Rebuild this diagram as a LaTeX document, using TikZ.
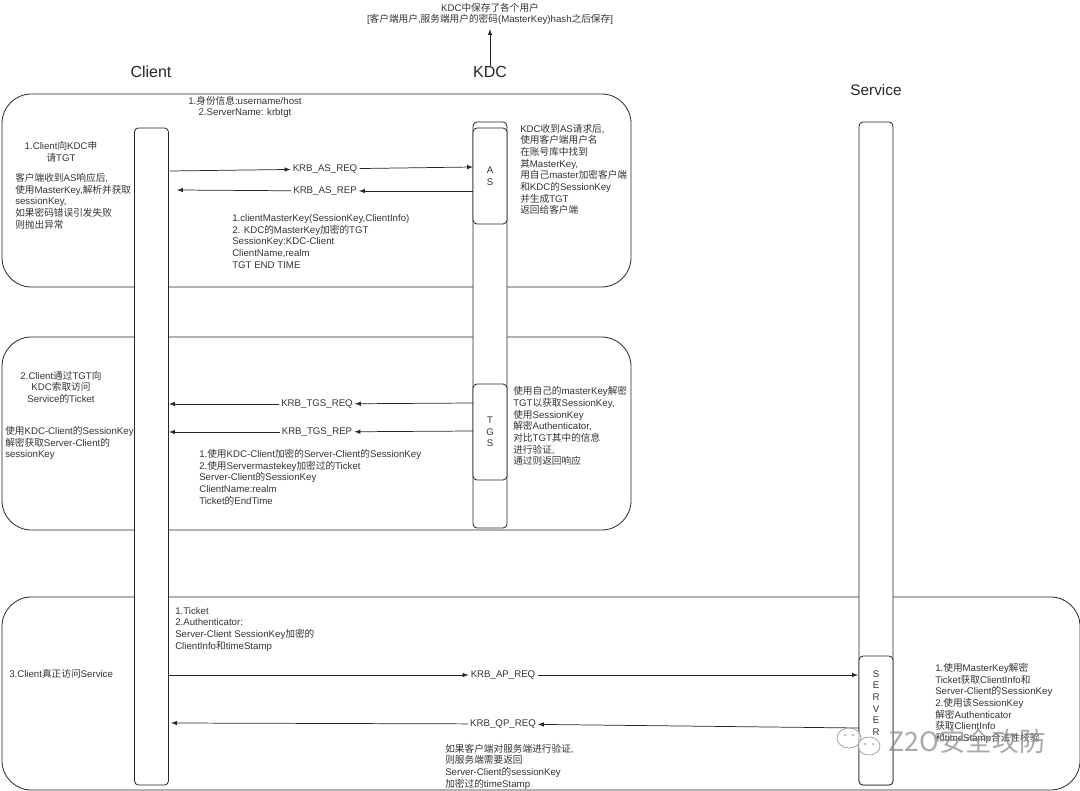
\documentclass[tikz,border=0pt]{standalone}
\usepackage{fontspec}
\setmainfont{Liberation Sans}
\newfontfamily\cjkfont{Noto Sans CJK SC}
\newcommand{\zh}[1]{{\cjkfont #1}}
\usetikzlibrary{positioning,arrows}

\tikzset{
	panel/.style={draw=black!85,line width=0.6pt,rounded corners=22pt},
	lifebox/.style={draw=black!85,fill=white,line width=0.6pt,rounded corners=3pt,inner sep=0pt,minimum width=25.5pt,align=center,text=black!80,font=\fontsize{7.2}{8.8}\selectfont},
	note/.style={align=left,anchor=west,inner sep=0pt,text=black!80,font=\fontsize{7.25}{8.75}\selectfont},
	centernote/.style={note,align=center,anchor=center},
	title/.style={inner sep=0pt,text=black!85,font=\fontsize{12}{14}\selectfont},
	msg/.style={inner sep=1.5pt,text=black!80,font=\fontsize{7.25}{8.8}\selectfont},
	flow/.style={->,>=latex,line width=0.55pt,black!85},
	bubble/.style={draw=black!40,fill=white,fill opacity=0.6,line width=0.5pt}
}

\begin{document}
\begin{tikzpicture}[x=0.75pt,y=-0.75pt]
\useasboundingbox (0,0) rectangle (1080,791);

% rounded panels
\draw[panel] (2,94) rectangle (631,287);
\draw[panel] (2,337) rectangle (631,530);
\draw[panel] (2,597) rectangle (1080,790);

% lifelines
\node[lifebox,minimum height=492.75pt](client) at (151.5,456.5) {};
\node[lifebox,minimum height=304.5pt](kdc) at (490,325) {};
\node[lifebox,minimum height=497.25pt](service) at (876,453.5) {};

\node[lifebox,minimum height=72pt](as) at (490,176) {A\\S};
\node[lifebox,minimum height=72pt](tgs) at (490,432) {T\\G\\S};
\node[lifebox,minimum height=96.75pt](server) at (876,720.5) {};
\node[centernote](serverlabel) at (876,703) {S\\E\\R\\V\\E\\R};

% titles
\node[title](clienttitle) at (151,72) {Client};
\node[title](kdctitle) at (490,72) {KDC};
\node[title,font=\fontsize{11.5}{14}\selectfont](servicetitle) at (876,90) {Service};
\node[centernote](store) at (490,14) {KDC\zh{中保存了各个用户}\\{}[\zh{客户端用户},\zh{服务端用户的密码}(MasterKey)hash\zh{之后保存}]};
\coordinate(storetip) at (490,29);
\draw[flow](kdctitle)--(storetip);

% messages
\node[msg](asreq) at (325,169) {KRB\_AS\_REQ};
\node[msg](asrep) at (325,191) {KRB\_AS\_REP};
\node[msg](tgsreq) at (317,404) {KRB\_TGS\_REQ};
\node[msg](tgsrep) at (317,432) {KRB\_TGS\_REP};
\node[msg](apreq) at (503,675) {KRB\_AP\_REQ};
\node[msg](qpreq) at (503,724) {KRB\_QP\_REQ};

\coordinate(c1) at (170,171);
\coordinate(c2) at (177,190);
\coordinate(c3) at (169,404);
\coordinate(c4) at (169,432);
\coordinate(c5) at (169,675);
\coordinate(c6) at (171,723);
\coordinate(a1) at (473,167);
\coordinate(a2) at (473,191);
\coordinate(t1) at (473,403);
\coordinate(t2) at (473,431);
\coordinate(s1) at (858,675);
\coordinate(s2) at (859,728);

\foreach \x/\y in {c1/asreq,asreq/a1,a2/asrep,asrep/c2,t1/tgsreq,tgsreq/c3,t2/tgsrep,tgsrep/c4,c5/apreq,apreq/s1,s2/qpreq,qpreq/c6}{
	\draw[flow](\x)--(\y);
}

% first panel
\node[centernote](info) at (245,107) {1.\zh{身份信息}:username/host\\2.ServerName: krbtgt};
\node[centernote](step1) at (61,152) {1.Client\zh{向}KDC\zh{申}\\\zh{请}TGT};
\node[note](clientas) at (15,201) {\zh{客户端收到}AS\zh{响应后},\\\zh{使用}MasterKey,\zh{解析并获取}\\sessionKey,\\\zh{如果密码错误引发失败}\\\zh{则抛出异常}};
\node[note](kdcas) at (520,169.5) {KDC\zh{收到}AS\zh{请求后},\\\zh{使用客户端用户名}\\\zh{在账号库中找到}\\\zh{其}MasterKey,\\\zh{用自己}master\zh{加密客户端}\\\zh{和}KDC\zh{的}SessionKey\\\zh{并生成}TGT\\\zh{返回给客户端}};
\node[note](asreply) at (232,241.5) {1.clientMasterKey(SessionKey,ClientInfo)\\2. KDC\zh{的}MasterKey\zh{加密的}TGT\\SessionKey:KDC-Client\\ClientName,realm\\TGT END TIME};

% second panel
\node[centernote](step2) at (61,387) {2.Client\zh{通过}TGT\zh{向}\\KDC\zh{索取访问}\\Service\zh{的}Ticket};
\node[note](clienttgs) at (5,443) {\zh{使用}KDC-Client\zh{的}SessionKey\\\zh{解密获取}Server-Client\zh{的}\\sessionKey};
\node[note](kdctgs) at (513,426) {\zh{使用自己的}masterKey\zh{解密}\\TGT\zh{以获取}SessionKey,\\\zh{使用}SessionKey\\\zh{解密}Authenticator,\\\zh{对比}TGT\zh{其中的信息}\\\zh{进行验证},\\\zh{通过则返回响应}};
\node[note](tgsreply) at (199,477) {1.\zh{使用}KDC-Client\zh{加密的}Server-Client\zh{的}SessionKey\\2.\zh{使用}Servermastekey\zh{加密过的}Ticket\\Server-Client\zh{的}SessionKey\\ClientName:realm\\Ticket\zh{的}EndTime};

% third panel
\node[note](step3) at (9,674) {3.Client\zh{真正访问}Service};
\node[note](apinfo) at (175,629) {1.Ticket\\2.Authenticator:\\Server-Client SessionKey\zh{加密的}\\ClientInfo\zh{和}timeStamp};
\node[note](qpinfo) at (445,766.5) {\zh{如果客户端对服务端进行验证},\\\zh{则服务端需要返回}\\Server-Client\zh{的}sessionKey\\\zh{加密过的}timeStamp};
\node[note](servercheck) at (935,703.5) {1.\zh{使用}MasterKey\zh{解密}\\Ticket\zh{获取}ClientInfo\zh{和}\\Server-Client\zh{的}SessionKey\\2.\zh{使用该}SessionKey\\\zh{解密}Authenticator\\\zh{获取}ClientInfo\\\zh{和}timeStamp\zh{合法性校验}};

% watermark
\draw[bubble] (849,738) ellipse (12 and 10);
\draw[bubble] (869,746) ellipse (11 and 9);
\foreach \x/\y in {845/735,853/735,865/744,873/744}{
	\fill[black!40] (\x,\y) circle (1);
}
\node[inner sep=0pt,text=black!45,opacity=0.75,font=\fontsize{20}{22}\cjkfont](mark1) at (967,741) {Z2O\zh{安全攻防}};
\end{tikzpicture}
\end{document}
